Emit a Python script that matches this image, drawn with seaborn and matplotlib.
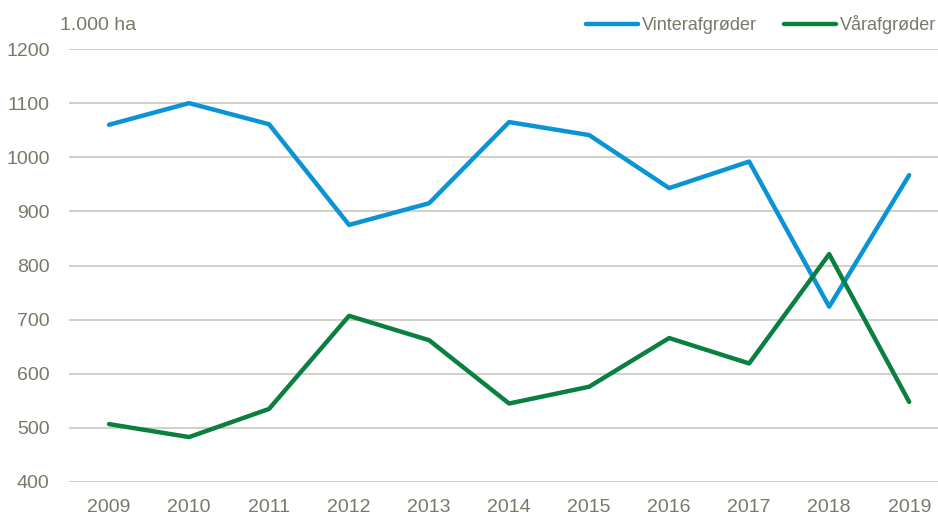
import seaborn as sns
import pandas as pd
import matplotlib.pyplot as plt

sns.set_theme(style="white")
plt.rcParams['font.family'] = ['Liberation Sans Narrow', 'Liberation Sans', 'DejaVu Sans']

years = list(range(2009, 2020))
vinter = [1060, 1100, 1061, 875, 915, 1065, 1041, 943, 992, 724, 967]
vaar = [507, 483, 535, 707, 662, 545, 576, 666, 619, 821, 548]
series_names = ["Vinterafgrøder", "Vårafgrøder"]
colors = {"Vinterafgrøder": "#0a93d5", "Vårafgrøder": "#0a8040"}

df = pd.DataFrame({
    "year": years * 2,
    "value": vinter + vaar,
    "serie": [series_names[0]] * len(years) + [series_names[1]] * len(years),
})

txt = "#7a7868"
grid = "#c8c8bc"

fig = plt.figure(figsize=(9.38, 5.16), dpi=100)
ax = fig.add_axes([69 / 938, 34 / 516, 1 - 69 / 938, 433 / 516])

sns.lineplot(data=df, x="year", y="value", hue="serie", palette=colors,
             linewidth=3.2, ax=ax, legend=False)

ax.set_ylim(400, 1200)
ax.set_xlim(2008.5, 2019.36)
ax.set_yticks(range(400, 1201, 100))
ax.set_xticks(years)
ax.yaxis.grid(True, color=grid, linewidth=1.2)
ax.set_axisbelow(True)
for s in ax.spines.values():
    s.set_visible(False)
ax.tick_params(axis="both", length=0, labelsize=14, colors=txt)
ax.tick_params(axis="y", pad=14)
ax.tick_params(axis="x", pad=12)
ax.set_xlabel("")
ax.set_ylabel("")

fig.text(60 / 938, 1 - 26 / 516, "1.000 ha", fontsize=14, color=txt, va="center", ha="left")

handles = [plt.Line2D([], [], color=colors[n], linewidth=3.2) for n in series_names]
fig.legend(handles, series_names, loc="center right", bbox_to_anchor=(936 / 938, 1 - 25 / 516),
           ncol=2, frameon=False, fontsize=13, labelcolor=txt, handlelength=2.9,
           handletextpad=0.2, columnspacing=1.5, borderpad=0, borderaxespad=0)

fig.savefig("out.png", dpi=100)
